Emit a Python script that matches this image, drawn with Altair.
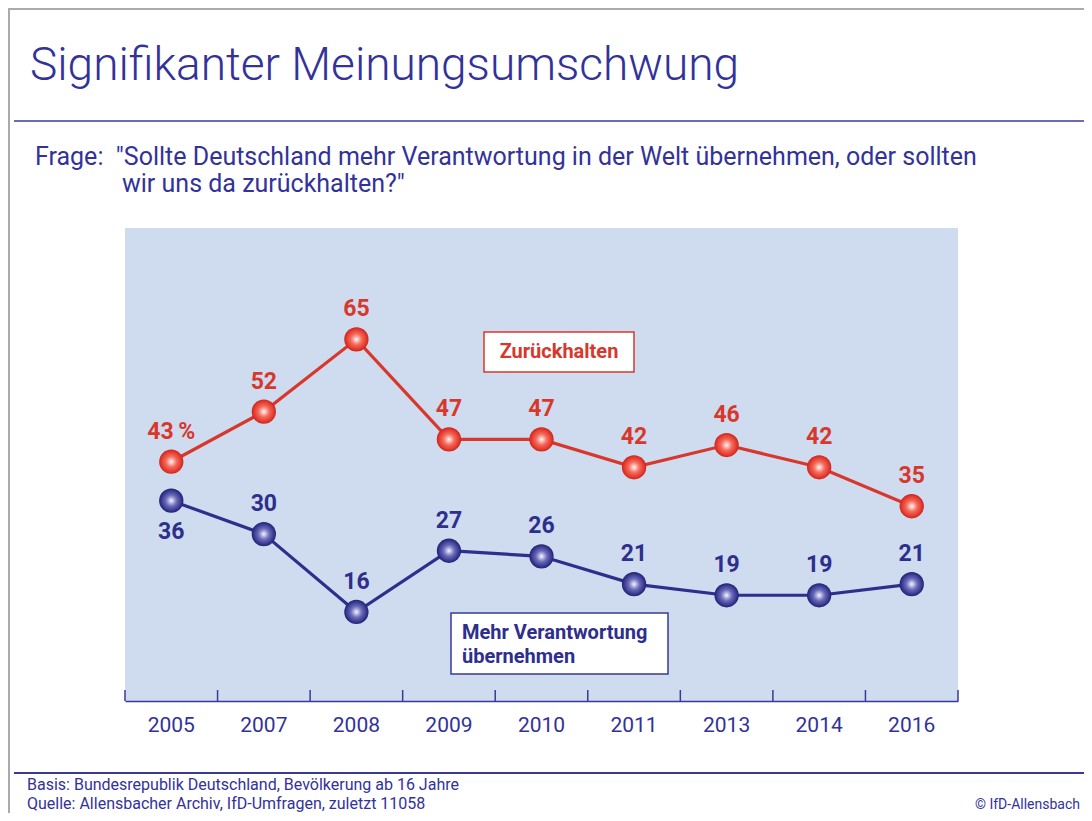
import altair as alt
import pandas as pd

years = ["2005", "2007", "2008", "2009", "2010", "2011", "2013", "2014", "2016"]
zurueck = [43, 52, 65, 47, 47, 42, 46, 42, 35]
mehr = [36, 30, 16, 27, 26, 21, 19, 19, 21]
zurueck_labels = ["43\u2009%"] + [str(v) for v in zurueck[1:]]
mehr_labels = [str(v) for v in mehr]

title_text = "Signifikanter Meinungsumschwung"
question_1 = "Frage:\u00a0 \"Sollte Deutschland mehr Verantwortung in der Welt übernehmen, oder sollten"
question_2 = "wir uns da zurückhalten?\""
legend_red = "Zurückhalten"
legend_blue = ["Mehr Verantwortung", "übernehmen"]
footer_1 = "Basis: Bundesrepublik Deutschland, Bevölkerung ab 16 Jahre"
footer_2 = "Quelle: Allensbacher Archiv, IfD-Umfragen, zuletzt 11058"
copyright_text = "© IfD-Allensbach"

RED = "#d8382c"
BLUE = "#2e2e8c"
AXIS_BLUE = "#3a3a96"
TEXT_BLUE = "#32329a"
BG = "#cfdcef"
FONT = "Roboto"

W, H = 833, 473

red_df = pd.DataFrame({"year": years, "value": zurueck, "label": zurueck_labels})
blue_df = pd.DataFrame({"year": years, "value": mehr, "label": mehr_labels})
year_df = pd.DataFrame({"year": years})

xscale = alt.Scale(type="band", domain=years, paddingInner=0, paddingOuter=0)
yscale = alt.Scale(domain=[0, 85])

x_axis = alt.Axis(title=None, ticks=False, tickSize=0, grid=False, labelAngle=0,
                  domainColor=AXIS_BLUE, domainWidth=1.5, labelColor=TEXT_BLUE,
                  labelFont=FONT, labelFontSize=21, labelPadding=13)

def X(bp=0.5):
    return alt.X("year:N", sort=years, scale=xscale, bandPosition=bp, axis=x_axis)

Y = alt.Y("value:Q", scale=yscale, axis=None)

ticks = alt.Chart(year_df).mark_rule(color=AXIS_BLUE, strokeWidth=1.5).encode(
    x=X(0), y=alt.value(H - 11), y2=alt.value(H))
tick_end = alt.Chart(year_df).transform_filter(alt.datum.year == years[-1]).mark_rule(
    color=AXIS_BLUE, strokeWidth=1.5).encode(x=X(1), y=alt.value(H - 11), y2=alt.value(H))

red_line = alt.Chart(red_df).mark_line(color=RED, strokeWidth=3.2).encode(x=X(), y=Y)
blue_line = alt.Chart(blue_df).mark_line(color=BLUE, strokeWidth=3.2).encode(x=X(), y=Y)

red_grad = {"gradient": "radial", "x1": 0.5, "y1": 0.5, "x2": 0.5, "y2": 0.5, "r1": 0, "r2": 0.5,
            "stops": [{"offset": 0, "color": "#ffffff"}, {"offset": 0.12, "color": "#ffd2ca"},
                      {"offset": 0.45, "color": "#f46a5c"}, {"offset": 0.85, "color": "#e2362a"},
                      {"offset": 1, "color": "#c8261d"}]}
blue_grad = {"gradient": "radial", "x1": 0.5, "y1": 0.5, "x2": 0.5, "y2": 0.5, "r1": 0, "r2": 0.5,
             "stops": [{"offset": 0, "color": "#ffffff"}, {"offset": 0.12, "color": "#cfcff0"},
                       {"offset": 0.45, "color": "#6c6cba"}, {"offset": 0.85, "color": "#34348e"},
                       {"offset": 1, "color": "#22226c"}]}

red_pts = alt.Chart(red_df).mark_point(filled=True, shape="circle", size=590, fill=red_grad,
                                       opacity=1, strokeWidth=0).encode(x=X(), y=Y)
blue_pts = alt.Chart(blue_df).mark_point(filled=True, shape="circle", size=590, fill=blue_grad,
                                         opacity=1, strokeWidth=0).encode(x=X(), y=Y)

lab_style = dict(font=FONT, fontSize=23, fontWeight="bold", baseline="middle", align="center")
red_lab = alt.Chart(red_df).mark_text(color=RED, dy=-30, **lab_style).encode(x=X(), y=Y, text="label:N")
blue_lab_up = alt.Chart(blue_df).transform_filter(alt.datum.year != years[0]).mark_text(
    color=BLUE, dy=-30, **lab_style).encode(x=X(), y=Y, text="label:N")
blue_lab_dn = alt.Chart(blue_df).transform_filter(alt.datum.year == years[0]).mark_text(
    color=BLUE, dy=31, **lab_style).encode(x=X(), y=Y, text="label:N")

one = pd.DataFrame({"a": [0]})

def box(x, x2, y, y2, color):
    return alt.Chart(one).mark_rect(fill="white", stroke=color, strokeWidth=1.5).encode(
        x=alt.value(x), x2=alt.value(x2), y=alt.value(y), y2=alt.value(y2))

def txt(s, x, y, size, color, align="left", weight="normal", baseline="alphabetic"):
    return alt.Chart(pd.DataFrame({"t": [s]})).mark_text(
        font=FONT, fontSize=size, color=color, align=align, fontWeight=weight,
        baseline=baseline).encode(x=alt.value(x), y=alt.value(y), text="t:N")

def hrule(x, x2, y, color, w):
    return alt.Chart(one).mark_rule(color=color, strokeWidth=w).encode(
        x=alt.value(x), x2=alt.value(x2), y=alt.value(y))

def vrule(x, y, y2, color, w):
    return alt.Chart(one).mark_rule(color=color, strokeWidth=w).encode(
        x=alt.value(x), y=alt.value(y), y2=alt.value(y2))

red_box = box(359, 509, 104, 144, RED)
red_box_t = txt(legend_red, 434, 124, 20, RED, align="center", weight="bold", baseline="middle")
blue_box = box(326, 543, 385, 446, AXIS_BLUE)
blue_box_t1 = txt(legend_blue[0], 337, 405, 20, BLUE, weight="bold", baseline="middle")
blue_box_t2 = txt(legend_blue[1], 337, 429, 20, BLUE, weight="bold", baseline="middle")

frame_top = hrule(-117, 960, -219, "#aaaaaa", 2)
frame_left = vrule(-116, -220, 600, "#aaaaaa", 2)
title = txt(title_text, -95, -148, 46, TEXT_BLUE, weight=300)
title_rule = hrule(-111, 960, -107, AXIS_BLUE, 1.5)
q1 = txt(question_1, -90, -63, 25, TEXT_BLUE)
q2 = txt(question_2, -3, -36, 25, TEXT_BLUE)
foot_rule = hrule(-111, 960, 545, AXIS_BLUE, 2)
f1 = txt(footer_1, -98, 562, 16, TEXT_BLUE)
f2 = txt(footer_2, -98, 581, 16, TEXT_BLUE)
fc = txt(copyright_text, 955, 581, 14, TEXT_BLUE, align="right")

chart = alt.layer(
    ticks, tick_end, red_line, blue_line, red_pts, blue_pts,
    red_lab, blue_lab_up, blue_lab_dn,
    red_box, red_box_t, blue_box, blue_box_t1, blue_box_t2,
    frame_top, frame_left, title, title_rule, q1, q2, foot_rule, f1, f2, fc,
).properties(
    width=W, height=H,
    autosize=alt.AutoSizeParams(type="none"),
    padding={"left": 117, "top": 220, "right": 126, "bottom": 112},
    background="white",
).configure_view(fill=BG, stroke=None)

chart.save("out.html", embed_options={"renderer": "svg", "actions": False})
